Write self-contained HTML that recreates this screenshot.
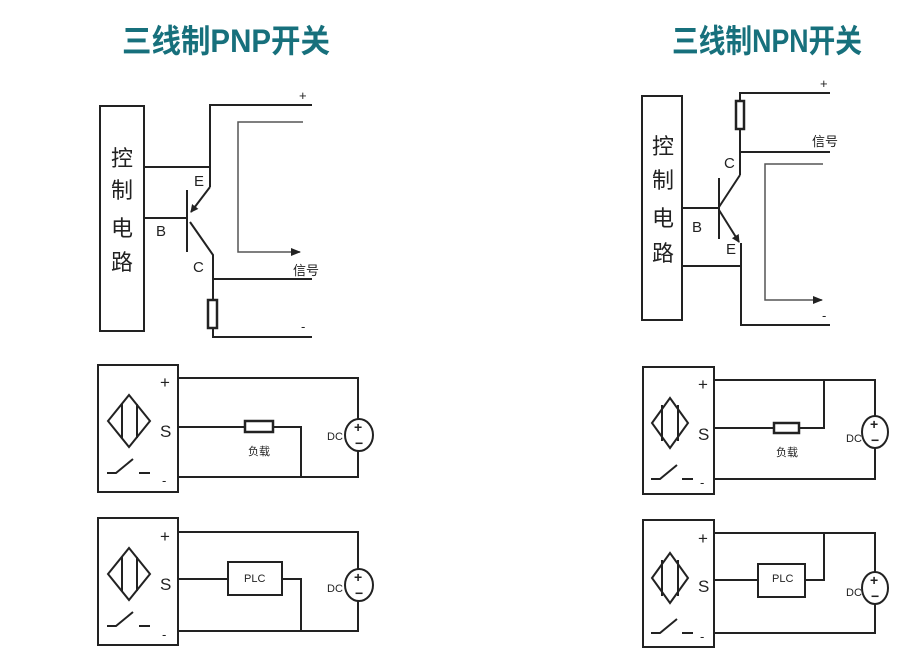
<!DOCTYPE html>
<html><head><meta charset="utf-8"><style>
html,body{margin:0;padding:0;background:#fff;width:914px;height:664px;overflow:hidden}
svg{display:block}
text{font-family:"Liberation Sans","Noto Sans CJK SC",sans-serif;fill:#222}
.t{fill:#17707c;font-size:32px;font-weight:bold}
</style></head><body>
<svg width="914" height="664" viewBox="0 0 914 664">
<defs>
<marker id="ar" markerWidth="8" markerHeight="8" refX="7" refY="4" orient="auto" markerUnits="userSpaceOnUse"><path d="M0,0 L8,4 L0,8 Z" fill="#222"/></marker>
<marker id="ag" markerWidth="10" markerHeight="8" refX="9" refY="4" orient="auto" markerUnits="userSpaceOnUse"><path d="M0,0 L10,4 L0,8 Z" fill="#222"/></marker>
</defs>
<text class="t" x="122" y="52" textLength="208" lengthAdjust="spacingAndGlyphs">三线制PNP开关</text>
<text class="t" x="672" y="52" textLength="190" lengthAdjust="spacingAndGlyphs">三线制NPN开关</text>

<g stroke="#222" stroke-width="2" fill="none">
<!-- PNP top -->
<rect x="100" y="106" width="44" height="225"/>
<path d="M312,105 H210 V187 M144,167 H210 M144,218 H187 M187,190 V252 M190,222 L213,255 V337 H312 M213,279 H312"/>
<path d="M210,187 L191,212" marker-end="url(#ar)"/>
<rect x="208" y="300" width="9" height="28" stroke-width="2.5" fill="#fff"/>
<path d="M303,122 H238 V252 H300" stroke="#555" stroke-width="1.5" marker-end="url(#ag)"/>
<!-- NPN top -->
<rect x="642" y="96" width="40" height="224"/>
<path d="M830,93 H740 V175 M740,152 H830 M740,175 L719,207 M719,178 V239 M682,208 H719 M741,243 V325 H830 M682,266 H741"/>
<path d="M719,210 L739,242" marker-end="url(#ar)"/>
<rect x="736" y="101" width="8" height="28" stroke-width="2.5" fill="#fff"/>
<path d="M823,164 H765 V300 H822" stroke="#555" stroke-width="1.5" marker-end="url(#ag)"/>

<!-- sensors -->
<g id="s1">
<rect x="98" y="365" width="80" height="127"/>
<path d="M108,421 L129,395 L150,421 L129,447 Z M122,404 V438 M137,404 V438 M107,473 H116 L133,459 M139,473 H150"/>
</g>
<path d="M178,378 H358 V419 M358,451 V477 H178 M178,427 H245 M273,427 H301 V477"/>
<rect x="245" y="421" width="28" height="11" stroke-width="2.5"/>
<ellipse cx="359" cy="435" rx="14" ry="16"/>

<rect x="98" y="518" width="80" height="127"/>
<path d="M108,574 L129,548 L150,574 L129,600 Z M122,557 V591 M137,557 V591 M107,626 H116 L133,612 M139,626 H150"/>
<path d="M178,532 H358 V569 M358,601 V631 H178 M178,579 H228 M282,579 H301 V631"/>
<rect x="228" y="562" width="54" height="33"/>
<ellipse cx="359" cy="585" rx="14" ry="16"/>

<rect x="643" y="367" width="71" height="127"/>
<path d="M652,423 L670,398 L688,423 L670,448 Z M662,405 V441 M678,405 V441 M651,479 H660 L677,465 M682,479 H693"/>
<path d="M714,380 H875 V416 M875,448 V479 H714 M714,428 H774 M799,428 H824 V380"/>
<rect x="774" y="423" width="25" height="10" stroke-width="2.5"/>
<ellipse cx="875" cy="432" rx="13" ry="16"/>

<rect x="643" y="520" width="71" height="127"/>
<path d="M652,578 L670,553 L688,578 L670,603 Z M662,560 V596 M678,560 V596 M651,633 H660 L677,619 M682,633 H693"/>
<path d="M714,533 H875 V572 M875,604 V633 H714 M714,580 H758 M805,580 H824 V533"/>
<rect x="758" y="564" width="47" height="33"/>
<ellipse cx="875" cy="588" rx="13" ry="16"/>
</g>

<g font-size="22">
<text x="111" y="166">控</text><text x="111" y="198">制</text><text x="111" y="236">电</text><text x="111" y="270">路</text>
<text x="652" y="154">控</text><text x="652" y="188">制</text><text x="652" y="226">电</text><text x="652" y="261">路</text>
</g>
<g font-size="15">
<text x="194" y="186">E</text><text x="156" y="236">B</text><text x="193" y="272">C</text>
<text x="724" y="168">C</text><text x="692" y="232">B</text><text x="726" y="254">E</text>
</g>
<g font-size="13">
<text x="299" y="100">+</text><text x="301" y="331">-</text><text x="293" y="275">信号</text>
<text x="820" y="88">+</text><text x="822" y="320">-</text><text x="812" y="146">信号</text>
</g>
<g font-size="17">
<text x="160" y="388">+</text><text x="160" y="437">S</text><text x="162" y="485" font-size="13">-</text>
<text x="160" y="542">+</text><text x="160" y="590">S</text><text x="162" y="639" font-size="13">-</text>
<text x="698" y="390">+</text><text x="698" y="440">S</text><text x="700" y="487" font-size="13">-</text>
<text x="698" y="544">+</text><text x="698" y="592">S</text><text x="700" y="641" font-size="13">-</text>
</g>
<g font-size="11">
<text x="248" y="455">负载</text><text x="327" y="440">DC</text>
<text x="244" y="582">PLC</text><text x="327" y="592">DC</text>
<text x="776" y="456">负载</text><text x="846" y="442">DC</text>
<text x="772" y="582">PLC</text><text x="846" y="596">DC</text>
</g>
<g font-size="14" font-weight="bold">
<text x="354" y="432">+</text><text x="355" y="448">−</text>
<text x="354" y="582">+</text><text x="355" y="598">−</text>
<text x="870" y="429">+</text><text x="871" y="445">−</text>
<text x="870" y="585">+</text><text x="871" y="601">−</text>
</g>
</svg>
</body></html>
